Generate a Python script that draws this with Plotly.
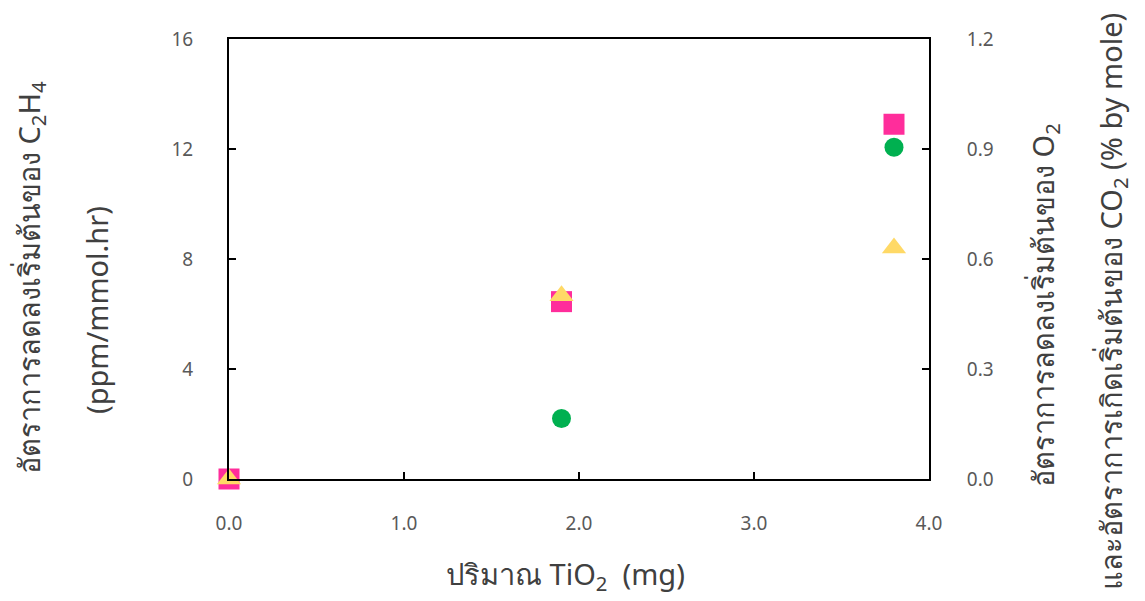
import plotly.graph_objects as go

# Data
tio2_mg = [0.0, 1.9, 3.8]
c2h4_rate = [0.0, 6.45, 12.9]      # left axis (ppm/mmol.hr)
o2_rate = [0.0, 0.165, 0.905]      # right axis (% by mole)
co2_rate = [0.0, 0.50, 0.63]       # right axis (% by mole)

x_ticks = [0, 1, 2, 3, 4]
x_ticklabels = ["0.0", "1.0", "2.0", "3.0", "4.0"]
yl_ticks = [0, 4, 8, 12, 16]
yr_ticks = [0, 0.3, 0.6, 0.9, 1.2]
yr_ticklabels = ["0.0", "0.3", "0.6", "0.9", "1.2"]

FONT = "Noto Sans, DejaVu Sans, sans-serif"
TICKC = "#595959"
TITC = "#404040"

fig = go.Figure()
# circle on right axis (bottom layer)
fig.add_trace(go.Scatter(x=tio2_mg, y=o2_rate, yaxis="y", mode="markers",
                         marker=dict(symbol="circle", size=19, color="#00B050"),
                         cliponaxis=False, name="O2"))
# square on left axis (middle layer)
fig.add_trace(go.Scatter(x=tio2_mg, y=c2h4_rate, yaxis="y2", mode="markers",
                         marker=dict(symbol="square", size=21, color="#FF2D9B"),
                         cliponaxis=False, name="C2H4"))
# triangle on right-axis copy (top layer)
fig.add_trace(go.Scatter(x=tio2_mg, y=co2_rate, yaxis="y3", mode="markers",
                         marker=dict(symbol="triangle-up", size=21, color="#FFD966"),
                         cliponaxis=False, name="CO2"))

axis_common = dict(showline=True, linecolor="black", linewidth=2, ticks="inside",
                   ticklen=7, tickwidth=1.5, tickcolor="black", showgrid=False,
                   zeroline=False, tickfont=dict(family=FONT, size=19, color=TICKC))

fig.update_layout(
    width=1145, height=601,
    margin=dict(l=229, r=216, t=39, b=122),
    plot_bgcolor="white", paper_bgcolor="white",
    showlegend=False,
    xaxis=dict(range=[0, 4], tickvals=x_ticks, ticktext=x_ticklabels, mirror=True,
               ticklabelstandoff=26, **axis_common),
    yaxis=dict(range=[0, 1.2], tickvals=yr_ticks, ticktext=yr_ticklabels,
               side="right", ticklabelstandoff=32, **axis_common),
    yaxis2=dict(range=[0, 16], tickvals=yl_ticks, overlaying="y", side="left",
                ticklabelstandoff=30, **axis_common),
    yaxis3=dict(range=[0, 1.2], overlaying="y", side="right", visible=False),
)

ann_font = dict(family=FONT, size=29, color=TITC)
anns = [
    dict(text="อัตราการลดลงเริ่มต้นของ C<sub>2</sub>H<sub>4</sub>", x=30, y=277),
    dict(text="(ppm/mmol.hr)", x=96, y=310),
    dict(text="อัตราการลดลงเริ่มต้นของ O<sub>2</sub>", x=1044, y=305),
    dict(text="และอัตราการเกิดเริ่มต้นของ CO<sub>2</sub> (% by mole)", x=1112, y=302),
]
for a in anns:
    fig.add_annotation(text=a["text"], xref="paper", yref="paper",
                       x=(a["x"] - 229) / 700, y=(479 - a["y"]) / 440,
                       xanchor="center", yanchor="middle", textangle=-90,
                       showarrow=False, font=ann_font)
fig.add_annotation(text="ปริมาณ TiO<sub>2</sub>  (mg)", xref="paper", yref="paper",
                   x=(565 - 229) / 700, y=(479 - 575) / 440, xanchor="center",
                   yanchor="middle", showarrow=False, font=ann_font)

fig.write_html("out.html")
